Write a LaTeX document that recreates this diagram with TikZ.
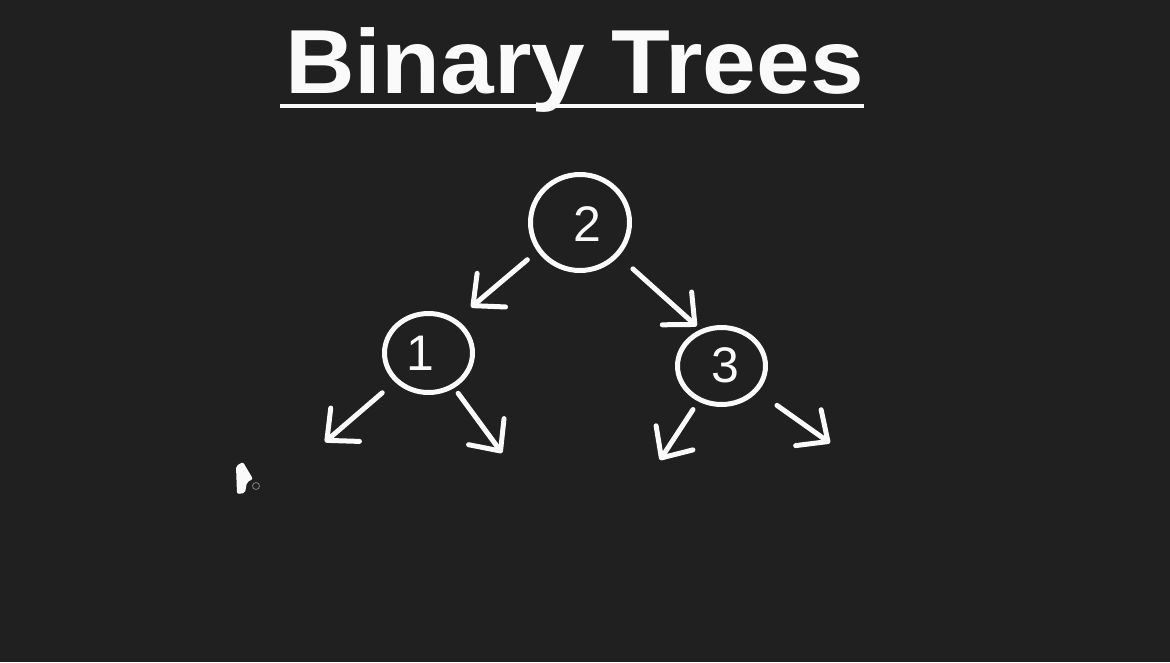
\documentclass[tikz,border=0pt]{standalone}
\usepackage{fontspec}
\usepackage{graphicx}
\setmainfont{Liberation Sans}
\usetikzlibrary{arrows.meta,shapes.geometric}
\definecolor{bg}{RGB}{32,32,32}
\definecolor{ink}{RGB}{250,250,250}
\tikzset{
  nodering/.style={draw=ink, line width=5pt, ellipse, inner sep=0pt, outer sep=2.5pt},
  digit/.style={text=ink, inner sep=0pt, font=\fontsize{50}{50}\selectfont},
  arr/.style={draw=ink, line width=5pt, line cap=round,
    -{Straight Barb[length=24pt,width=44pt,round]}},
}
\begin{document}
\begin{tikzpicture}[x=1pt,y=-1pt]
  \fill[bg] (0,0) rectangle (1170,662);
  \useasboundingbox (0,0) rectangle (1170,662);
  % title
  \node[anchor=base west, inner sep=0pt, text=ink,
        font=\fontsize{91}{100}\selectfont\bfseries] (title) at (285,93)
        {\scalebox{1.059}[1]{Binary Trees}};
  \draw[ink, line width=3.5pt] (280,106) -- (864,106);
  % nodes
  \node[nodering, minimum width=99pt, minimum height=96pt] (n2) at (580,222.5) {};
  \node[nodering, minimum width=88pt, minimum height=79pt] (n1) at (428.5,353) {};
  \node[nodering, minimum width=88pt, minimum height=77pt] (n3) at (721.5,366) {};
  \node[digit] (d2) at (587,224) {2};
  \node[digit] (d1) at (420,353) {1};
  \node[digit] (d3) at (725,365) {3};
  % free ends
  \coordinate (l1) at (325,442);
  \coordinate (r1) at (502,453);
  \coordinate (l3) at (660,460);
  \coordinate (r3) at (830,443);
  % connectors
  \draw[arr, shorten <=13pt, shorten >=19pt] (n2.214) -- (n1.50);
  \draw[arr, shorten <=19pt, shorten >=5pt] (n2.319) -- (n3.120);
  \draw[arr, shorten <=61pt] (n1.center) -- (l1);
  \draw[arr, shorten <=50pt] (n1.center) -- (r1);
  \draw[arr, shorten <=52pt] (n3.center) -- (l3);
  \draw[arr, shorten <=68pt] (n3.center) -- (r3);
  % cursor mark
  \fill[ink, rounded corners=2pt] (236,466) -- (243,462) -- (253,479) -- (247,482)
     -- (245,493) -- (237,494) -- cycle;
  \draw[gray, line width=0.8pt] (256,486) circle (3.5);
\end{tikzpicture}
\end{document}
